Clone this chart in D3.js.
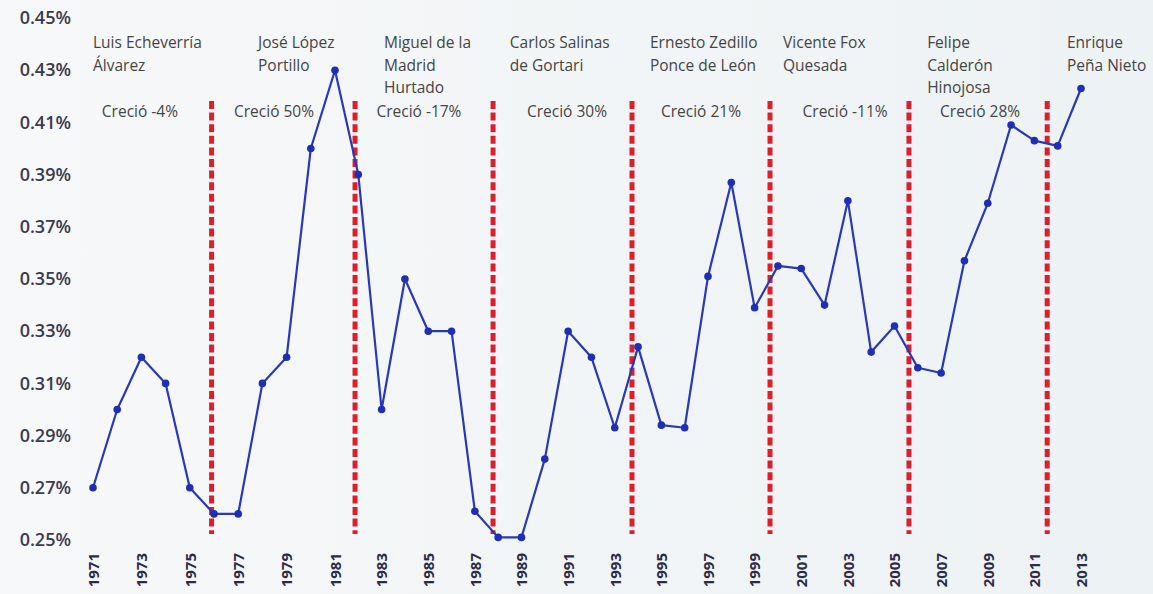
<!DOCTYPE html>
<html>
<head>
<meta charset="utf-8">
<script src="https://cdn.jsdelivr.net/npm/d3@7"></script>
<style>
  html, body { margin: 0; padding: 0; background: #f3f5f6; }
  svg { display: block; }
</style>
</head>
<body>
<svg id="chart" width="1153" height="594"></svg>
<script>
// ---------- DATA ----------
const years = d3.range(1971, 2014);
const values = [
  0.270, 0.300, 0.320, 0.310, 0.270, 0.260, 0.260, 0.310, 0.320, 0.400,
  0.430, 0.390, 0.300, 0.350, 0.330, 0.330, 0.261, 0.251, 0.251, 0.281,
  0.330, 0.320, 0.293, 0.324, 0.294, 0.293, 0.351, 0.387, 0.339, 0.355,
  0.354, 0.340, 0.380, 0.322, 0.332, 0.316, 0.314, 0.357, 0.379, 0.409,
  0.403, 0.401, 0.423
];
const yTicks = [0.25, 0.27, 0.29, 0.31, 0.33, 0.35, 0.37, 0.39, 0.41, 0.43, 0.45];
const xTicks = d3.range(1971, 2014, 2);
const presidents = [
  ["Luis Echeverría", "Álvarez"],
  ["José López", "Portillo"],
  ["Miguel de la", "Madrid", "Hurtado"],
  ["Carlos Salinas", "de Gortari"],
  ["Ernesto Zedillo", "Ponce de León"],
  ["Vicente Fox", "Quesada"],
  ["Felipe", "Calderón", "Hinojosa"],
  ["Enrique", "Peña Nieto"]
];
const growth = ["Creció -4%", "Creció 50%", "Creció -17%", "Creció 30%", "Creció 21%", "Creció -11%", "Creció 28%"];
const termChanges = [1976, 1982, 1988, 1994, 2000, 2006, 2012];

// ---------- LAYOUT ----------
const W = 1153, H = 594;
const svg = d3.select("#chart");
const defs = svg.append("defs");
const grad = defs.append("linearGradient").attr("id", "bg").attr("x1", 0).attr("x2", 1).attr("y1", 0).attr("y2", 0);
grad.append("stop").attr("offset", "0%").attr("stop-color", "#f7f8f9");
grad.append("stop").attr("offset", "100%").attr("stop-color", "#edf2f4");
svg.append("rect").attr("width", W).attr("height", H).attr("fill", "url(#bg)");

// slightly piecewise scale to follow the photographed perspective
const x = d3.scaleLinear().domain([1971, 1981, 2013]).range([93, 335, 1081]);
const y = d3.scaleLinear().domain([0.25, 0.45]).range([540, 18]);

const FONT = "'Open Sans', 'Noto Sans', sans-serif";

// Y axis labels
const yAxis = svg.append("g").attr("transform", "translate(71,0)")
  .call(d3.axisLeft(y).tickValues(yTicks).tickSize(0).tickPadding(0)
    .tickFormat(d => d3.format(".2f")(d) + "%"));
yAxis.select(".domain").remove();
yAxis.selectAll("text").attr("font-family", FONT).attr("font-size", 18)
  .attr("font-weight", 600).attr("fill", "#3b3b4e");

// X axis labels (rotated)
const xAxis = svg.append("g").attr("transform", "translate(0,553)")
  .call(d3.axisBottom(x).tickValues(xTicks).tickSize(0).tickPadding(0).tickFormat(d3.format("d")));
xAxis.select(".domain").remove();
xAxis.selectAll("text")
  .attr("font-family", FONT).attr("font-size", 15).attr("font-weight", 700).attr("fill", "#2c2c48")
  .attr("transform", "rotate(-90)").attr("text-anchor", "end")
  .attr("x", 0).attr("y", 0).attr("dy", "0.35em");

// Term divider lines
const dividerShift = [-0.1, -0.14, -0.22, -0.26, -0.34, -0.38, -0.45];
svg.append("g").selectAll("line").data(termChanges).join("line")
  .attr("x1", (d, i) => x(d + dividerShift[i])).attr("x2", (d, i) => x(d + dividerShift[i]))
  .attr("y1", 101).attr("y2", 534)
  .attr("stroke", "#dd1f2b").attr("stroke-width", 5).attr("stroke-dasharray", "8,3.6");

// Series line
const pts = years.map((yr, i) => ({ yr, v: values[i] }));
svg.append("path").datum(pts)
  .attr("fill", "none").attr("stroke", "#2a38b8").attr("stroke-width", 2.2)
  .attr("stroke-linejoin", "round")
  .attr("d", d3.line().x(d => x(d.yr)).y(d => y(d.v)));
svg.append("g").selectAll("circle").data(pts).join("circle")
  .attr("cx", d => x(d.yr)).attr("cy", d => y(d.v)).attr("r", 3.8).attr("fill", "#1f2fb5");

// President names
const nameYear = [1971, 1977.82, 1983.1, 1988.5, 1994.51, 2000.22, 2006.4, 2012.4];
const ng = svg.append("g").attr("font-family", FONT).attr("font-size", 15.5).attr("fill", "#454545");
presidents.forEach((lines, i) => {
  const t = ng.append("text").attr("x", x(nameYear[i])).attr("y", 48);
  lines.forEach((ln, j) => {
    t.append("tspan").attr("x", x(nameYear[i])).attr("y", 48 + j * 22.5).text(ln);
  });
});

// Growth labels
const growthYear = [1972.94, 1978.48, 1984.6, 1990.95, 1996.7, 2002.88, 2008.67];
svg.append("g").attr("font-family", FONT).attr("font-size", 15.5).attr("fill", "#454545")
  .selectAll("text").data(growth).join("text")
  .attr("x", (d, i) => x(growthYear[i])).attr("y", 117).attr("text-anchor", "middle")
  .text(d => d);
</script>
</body>
</html>
